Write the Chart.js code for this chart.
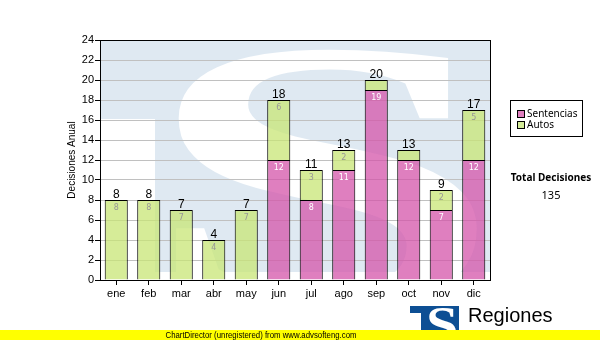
<!DOCTYPE html>
<html>
<head>
<meta charset="utf-8">
<script src="https://cdn.jsdelivr.net/npm/chart.js@4"></script>
<style>
  body { margin: 0; background: #fff; }
  #wrap { width: 600px; height: 340px; }
</style>
</head>
<body>
<div id="wrap"><canvas id="grafico" width="600" height="340"></canvas></div>
<script>
// Datos del gráfico
const meses = ["ene", "feb", "mar", "abr", "may", "jun", "jul", "ago", "sep", "oct", "nov", "dic"];
const sentencias = [0, 0, 0, 0, 0, 12, 8, 11, 19, 12, 7, 12];
const autos = [8, 8, 7, 4, 7, 6, 3, 2, 1, 1, 2, 5];
const ejeYMax = 24;
const ejeYPaso = 2;

// Barras semitransparentes (se ve la marca de agua a través)
const colorSentencias = "rgba(212, 84, 170, 0.75)";
const colorAutos = "rgba(200, 230, 118, 0.75)";
const leyendaSentencias = "#df7fbf";
const leyendaAutos = "#d4ec98";
const azulMarca = "#0d4f94";

// Ajusta un carácter a una caja dada (para el logo)
function glifoEnCaja(ctx, ch, fuente, x0, y0, x1, y1) {
  ctx.font = fuente;
  ctx.textAlign = "left";
  ctx.textBaseline = "alphabetic";
  const m = ctx.measureText(ch);
  const w = m.actualBoundingBoxLeft + m.actualBoundingBoxRight;
  const h = m.actualBoundingBoxAscent + m.actualBoundingBoxDescent;
  ctx.save();
  ctx.translate(x0, y0);
  ctx.scale((x1 - x0) / w, (y1 - y0) / h);
  ctx.fillText(ch, m.actualBoundingBoxLeft, m.actualBoundingBoxAscent);
  ctx.restore();
}

// Marca de agua azul clara dentro del área del gráfico (debajo de la rejilla)
const marcaAgua = {
  id: "marcaAgua",
  beforeDraw(chart) {
    const a = chart.chartArea;
    const off = document.createElement("canvas");
    off.width = chart.width;
    off.height = chart.height;
    const o = off.getContext("2d");
    o.fillStyle = "#dfe9f2";
    o.fillRect(a.left, a.top, a.right - a.left, 272 - a.top);
    o.globalCompositeOperation = "destination-out";
    o.fillStyle = "#000";
    o.fillRect(a.left, 119, 155 - a.left, 160);
    glifoEnCaja(o, "S", "bold 300px 'Liberation Serif'", 172, 46, 478, 312);
    chart.ctx.drawImage(off, 0, 0);
  }
};

// Etiquetas de valores, borde, leyenda y pie
const extras = {
  id: "extras",
  afterDatasetsDraw(chart) {
    const ctx = chart.ctx;
    const a = chart.chartArea;
    const y = chart.scales.y;
    ctx.save();
    // valores dentro de cada segmento
    ctx.font = "8px 'DejaVu Sans'";
    ctx.textAlign = "center";
    ctx.textBaseline = "top";
    chart.data.datasets.forEach((ds, i) => {
      const meta = chart.getDatasetMeta(i);
      meta.data.forEach((bar, j) => {
        const v = ds.data[j];
        if (v >= 2) {
          ctx.fillStyle = i === 0 ? "#ffffff" : "#989898";
          ctx.fillText(v, bar.x, bar.y + 4);
        }
      });
    });
    // totales encima de las barras
    ctx.font = "12px 'Liberation Sans'";
    ctx.textBaseline = "alphabetic";
    ctx.fillStyle = "#000";
    meses.forEach((m, j) => {
      const total = sentencias[j] + autos[j];
      const x = chart.getDatasetMeta(1).data[j].x;
      ctx.fillText(total, x, y.getPixelForValue(total) - 2);
    });
    // borde del área
    ctx.strokeStyle = "#000";
    ctx.lineWidth = 1;
    ctx.strokeRect(Math.round(a.left) + 0.5, Math.round(a.top) + 0.5,
      Math.round(a.right - a.left), Math.round(a.bottom - a.top));
    ctx.restore();
  },
  afterDraw(chart) {
    const ctx = chart.ctx;
    ctx.save();
    // leyenda
    ctx.strokeStyle = "#000";
    ctx.lineWidth = 1;
    ctx.strokeRect(510.5, 100.5, 72, 36);
    const filas = [["Sentencias", leyendaSentencias, 114], ["Autos", leyendaAutos, 125]];
    ctx.font = "10px 'Noto Sans'";
    ctx.textAlign = "left";
    ctx.textBaseline = "middle";
    filas.forEach(([txt, col, yy]) => {
      ctx.fillStyle = col;
      ctx.fillRect(517.5, yy - 3.5, 7, 7);
      ctx.strokeRect(517.5, yy - 3.5, 7, 7);
      ctx.fillStyle = "#000";
      ctx.fillText(txt, 527, yy);
    });
    // total de decisiones
    const total = sentencias.concat(autos).reduce((s, v) => s + v, 0);
    ctx.textAlign = "center";
    ctx.font = "bold 10px 'Noto Sans'";
    ctx.fillText("Total Decisiones", 551, 178);
    ctx.font = "11px 'Noto Sans'";
    ctx.fillText(String(total), 551, 196);
    // logo
    ctx.fillStyle = azulMarca;
    ctx.fillRect(410, 306, 49, 34);
    ctx.fillStyle = "#fff";
    ctx.fillRect(410, 313, 11, 27);
    glifoEnCaja(ctx, "S", "bold 60px 'Liberation Serif'", 429, 308, 456, 342);
    ctx.fillStyle = "#000";
    ctx.textAlign = "left";
    ctx.textBaseline = "alphabetic";
    ctx.font = "20px 'Liberation Sans'";
    ctx.fillText("Regiones", 468, 322);
    ctx.font = "9px 'Liberation Sans'";
    ctx.fillText("Tribunal Supremo de Justicia", 468, 337);
    // franja amarilla
    ctx.fillStyle = "#ffff00";
    ctx.fillRect(0, 330, 600, 10);
    ctx.fillStyle = "#000";
    ctx.textAlign = "center";
    ctx.font = "9px 'Liberation Sans'";
    ctx.fillText("ChartDirector (unregistered) from www.advsofteng.com", 261, 338, 191);
    ctx.restore();
  }
};

function crearGrafico() {
  const ctx = document.getElementById("grafico").getContext("2d");
  new Chart(ctx, {
    type: "bar",
    data: {
      labels: meses,
      datasets: [
        {
          label: "Sentencias",
          data: sentencias,
          backgroundColor: colorSentencias,
          borderColor: "#000",
          borderWidth: 1,
          categoryPercentage: 1,
          barPercentage: 0.71
        },
        {
          label: "Autos",
          data: autos,
          backgroundColor: colorAutos,
          borderColor: "#000",
          borderWidth: 1,
          categoryPercentage: 1,
          barPercentage: 0.71
        }
      ]
    },
    options: {
      responsive: false,
      animation: false,
      layout: { padding: { left: 62, right: 110, top: 40, bottom: 40 } },
      plugins: {
        legend: { display: false },
        tooltip: { enabled: false }
      },
      scales: {
        x: {
          stacked: true,
          afterFit: (s) => { s.height = 20; },
          grid: { drawOnChartArea: false, offset: false, tickLength: 5, tickColor: "#000" },
          border: { color: "#000" },
          ticks: { color: "#000", font: { family: "Liberation Sans", size: 11 }, padding: 2 }
        },
        y: {
          stacked: true,
          min: 0,
          max: ejeYMax,
          afterFit: (s) => { s.width = 38; },
          grid: { color: "#c0c0c0", tickColor: "#000", tickLength: 5 },
          border: { color: "#000" },
          ticks: { stepSize: ejeYPaso, color: "#000", font: { family: "Liberation Sans", size: 11 }, padding: 1 },
          title: { display: true, text: "Decisiones Anual", color: "#000", font: { family: "Liberation Sans", size: 10 }, padding: 4 }
        }
      }
    },
    plugins: [marcaAgua, extras]
  });
}

crearGrafico();
</script>
</body>
</html>
